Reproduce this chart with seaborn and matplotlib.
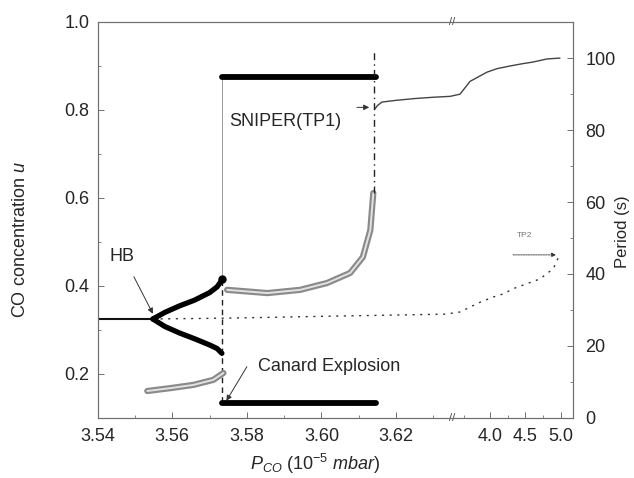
"""Bifurcation diagram: CO concentration u and oscillation period vs P_CO (broken x axis)."""
import numpy as np
import pandas as pd
import matplotlib
matplotlib.use("Agg")
import matplotlib.pyplot as plt
import seaborn as sns

# ---- data ---------------------------------------------------------------
# stable steady state before the Hopf point
STEADY_P = [3.540, 3.5548]
STEADY_U = [0.325, 0.325]

# unstable steady state (dotted), continues past the axis break up to TP2
UNSTABLE_P = [3.5548, 3.575, 3.600, 3.6332, 3.712, 3.808, 3.904, 4.047,
              4.187, 4.328, 4.517, 4.704, 4.799, 4.892, 4.986]
UNSTABLE_U = [0.325, 0.327, 0.331, 0.336, 0.341, 0.352, 0.363, 0.375,
              0.382, 0.394, 0.405, 0.416, 0.428, 0.439, 0.473]

# small-amplitude limit cycle born at HB (max / min of u)
HB_P = [3.5548, 3.558, 3.562, 3.566, 3.570, 3.572, 3.5733]
HB_UMAX = [0.325, 0.340, 0.355, 0.368, 0.385, 0.398, 0.413]
HB_UMIN = [0.325, 0.308, 0.293, 0.280, 0.266, 0.258, 0.247]

# relaxation oscillations after the canard explosion
RELAX_P = [3.5733, 3.6145]
RELAX_UMAX = [0.875, 0.875]
RELAX_UMIN = [0.133, 0.133]

# upper stable steady state after SNIPER
UPPER_P = [3.6143, 3.6150, 3.6162, 3.620, 3.625, 3.630, 3.6345, 3.712,
           3.808, 3.971, 4.10, 4.282, 4.45, 4.606, 4.803, 4.986]
UPPER_U = [0.802, 0.810, 0.818, 0.822, 0.826, 0.829, 0.831, 0.836,
           0.865, 0.886, 0.894, 0.900, 0.905, 0.909, 0.916, 0.918]

# oscillation period (right axis)
PER_LOW_P = [3.5533, 3.5595, 3.5657, 3.5710, 3.5737]
PER_LOW_T = [7.5, 8.3, 9.2, 10.6, 12.5]
PER_HIGH_P = [3.5747, 3.5855, 3.5943, 3.6015, 3.6077, 3.6111, 3.6131, 3.6139]
PER_HIGH_T = [35.6, 34.7, 35.6, 37.5, 40.3, 44.7, 52.2, 62.5]
SNIPER_P = 3.6141
SNIPER_T = [62.5, 102.0]
CANARD_P = 3.5733

XTICKS = [3.54, 3.56, 3.58, 3.60, 3.62, 4.0, 4.5, 5.0]
XTICKLABELS = ["3.54", "3.56", "3.58", "3.60", "3.62", "4.0", "4.5", "5.0"]
XMINOR = [3.55, 3.57, 3.59, 3.61, 3.63, 3.75, 4.25, 4.75]
YTICKS = [0.2, 0.4, 0.6, 0.8, 1.0]
PTICKS = [0, 20, 40, 60, 80, 100]

# ---- broken x axis as a piecewise-linear scale ------------------------------
X_KNOTS = [3.54, 3.635, 4.0, 5.17]
S_KNOTS = [97.7, 452.0, 490.0, 573.0]


def _pw(v, xs, ys):
    v = np.asarray(v, dtype=float)
    out = np.interp(v, xs, ys)
    lo_slope = (ys[1] - ys[0]) / (xs[1] - xs[0])
    hi_slope = (ys[-1] - ys[-2]) / (xs[-1] - xs[-2])
    out = np.where(v < xs[0], ys[0] + (v - xs[0]) * lo_slope, out)
    out = np.where(v > xs[-1], ys[-1] + (v - xs[-1]) * hi_slope, out)
    return out


def fwd(v):
    return _pw(v, X_KNOTS, S_KNOTS)


def inv(v):
    return _pw(v, S_KNOTS, X_KNOTS)


sns.set_style("ticks", {"xtick.direction": "in", "ytick.direction": "in"})
plt.rcParams["font.family"] = ["Liberation Sans", "DejaVu Sans"]
plt.rcParams["mathtext.fontset"] = "custom"
plt.rcParams["mathtext.rm"] = "Liberation Sans"
plt.rcParams["mathtext.it"] = "Liberation Sans:italic"

FS = 13
SPINE = "#707070"

fig = plt.figure(figsize=(6.34, 4.78), dpi=100)
ax = fig.add_axes([97.7 / 634, 60 / 478, (573 - 97.7) / 634, 396 / 478])
ax.set_xscale("function", functions=(fwd, inv))
ax2 = ax.twinx()


def line(axis, xs, ys, **kw):
    df = pd.DataFrame({"x": xs, "y": ys})
    sns.lineplot(data=df, x="x", y="y", ax=axis, sort=False, estimator=None, **kw)


# period curves (grey bands of open circles)
for xs, ys in [(PER_LOW_P, PER_LOW_T), (PER_HIGH_P, PER_HIGH_T)]:
    line(ax2, xs, ys, color="#8a8a8a", linewidth=4.5, solid_capstyle="round")
    line(ax2, xs, ys, color="#e2e2e2", linewidth=1.4)
line(ax2, [SNIPER_P, SNIPER_P], SNIPER_T, color="#222222", linewidth=1.0,
     linestyle=(0, (5, 3, 1, 3)))

# steady states
line(ax, STEADY_P, STEADY_U, color="#111111", linewidth=1.5)
line(ax, UNSTABLE_P, UNSTABLE_U, color="#333333", linewidth=1.0,
     linestyle=(0, (1.5, 4)))
line(ax, UPPER_P, UPPER_U, color="#444444", linewidth=1.0)

# canard jump verticals
line(ax, [CANARD_P, CANARD_P], [RELAX_UMAX[0], HB_UMAX[-1]], color="#9a9a9a",
     linewidth=0.7)
line(ax, [CANARD_P, CANARD_P], [HB_UMAX[-1], RELAX_UMIN[0]], color="#222222",
     linewidth=1.0, linestyle=(0, (4, 3)))

# limit cycle extrema
line(ax, HB_P, HB_UMAX, color="black", linewidth=3.8, solid_capstyle="round")
line(ax, HB_P, HB_UMIN, color="black", linewidth=3.8, solid_capstyle="round")
ax.plot([HB_P[-1]], [HB_UMAX[-1] + 0.004], "o", color="black", ms=5)
line(ax, RELAX_P, RELAX_UMAX, color="black", linewidth=4.2, solid_capstyle="round")
line(ax, RELAX_P, RELAX_UMIN, color="black", linewidth=4.2, solid_capstyle="round")

# annotations
arrow = dict(arrowstyle="-|>", color="#333333", lw=0.7, mutation_scale=8,
             shrinkA=0, shrinkB=0)
ax.annotate("HB", xy=(3.5548, 0.337), xytext=(3.5465, 0.466), fontsize=FS,
            ha="center", va="center")
ax.annotate("", xy=(3.5548, 0.337), xytext=(3.5497, 0.421), arrowprops=arrow)
ax.text(3.5752, 0.775, "SNIPER(TP1)", fontsize=FS, ha="left", va="center")
ax.annotate("", xy=(3.6128, 0.806), xytext=(3.6095, 0.806), arrowprops=arrow)
ax.text(3.583, 0.2166, "Canard Explosion", fontsize=FS, ha="left", va="center")
ax.annotate("", xy=(3.5745, 0.139), xytext=(3.5800, 0.2166), arrowprops=arrow)
ax.text(4.49, 0.514, "TP2", fontsize=6, color="#777777", ha="center", va="center")
ax.annotate("", xy=(4.93, 0.4707), xytext=(4.324, 0.4707),
            arrowprops=dict(arrowstyle="-|>", color="#333333", lw=0.6,
                            linestyle=(0, (2, 1)), mutation_scale=6,
                            shrinkA=0, shrinkB=0))

# axis break marks
for yy in (0.0, 1.0):
    ax.text(3.6355, yy, "//", transform=ax.get_xaxis_transform(), fontsize=8,
            ha="center", va="center", color="#444444")

# axes setup
ax.set_xlim(3.54, 5.17)
ax.set_ylim(0.1, 1.0)
ax2.set_ylim(0, 110)
ax.set_xticks(XTICKS)
ax.set_xticklabels(XTICKLABELS)
ax.set_xticks(XMINOR, minor=True)
ax.set_yticks(YTICKS)
ax.set_yticklabels([f"{v:.1f}" for v in YTICKS])
ax.set_yticks([0.3, 0.5, 0.7, 0.9], minor=True)
ax2.set_yticks(PTICKS)
ax2.set_yticks([10, 30, 50, 70, 90], minor=True)

ax.tick_params(axis="both", which="major", direction="in", length=4, width=0.7,
               color=SPINE, labelsize=FS, right=False, top=False)
ax.tick_params(axis="both", which="minor", direction="in", length=2, width=0.6,
               color=SPINE, right=False, top=False)
ax.tick_params(axis="x", pad=7)
ax.tick_params(axis="y", pad=6)
ax2.tick_params(axis="y", which="major", direction="in", length=4, width=0.7,
                color=SPINE, labelsize=FS, pad=9, left=False)
ax2.tick_params(axis="y", which="minor", direction="in", length=2, width=0.6,
                color=SPINE, left=False)

for a in (ax, ax2):
    for s in a.spines.values():
        s.set_visible(True)
        s.set_color(SPINE)
        s.set_linewidth(0.8)

ax.set_xlabel("$P_{CO}$ (10$^{-5}$ $mbar$)", fontsize=FS)
ax.set_ylabel("CO concentration $u$", fontsize=FS)
ax2.set_ylabel("Period (s)", fontsize=12)
ax.xaxis.set_label_coords(0.457, -0.085)
ax.yaxis.set_label_coords(-0.145, 0.45)
ax2.yaxis.set_label_coords(1.088, 0.47)

fig.savefig("out.png", dpi=100)
